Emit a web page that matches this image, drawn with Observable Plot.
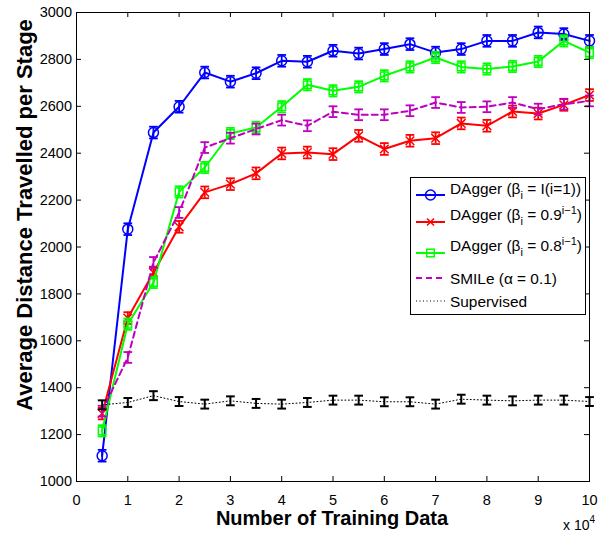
<!DOCTYPE html>
<html><head><meta charset="utf-8">
<script src="https://cdn.jsdelivr.net/npm/d3@7"></script>
<script src="https://cdn.jsdelivr.net/npm/@observablehq/plot@0.6"></script>
<style>body{margin:0;background:#fff} svg{display:block}</style>
</head><body><div id="chart"></div>
<script>
// ---- data (x in units of 10^4 training samples) ----
const xs = [0.5, 1, 1.5, 2, 2.5, 3, 3.5, 4, 4.5, 5, 5.5, 6, 6.5, 7, 7.5, 8, 8.5, 9, 9.5, 10];
const daggerI   = [1110, 2076, 2488, 2598, 2744, 2705, 2741, 2794, 2790, 2837, 2825, 2844, 2865, 2829, 2844, 2879, 2879, 2915, 2908, 2879];
const dagger09  = [1290, 1697, 1891, 2086, 2233, 2268, 2314, 2399, 2403, 2396, 2474, 2418, 2453, 2464, 2527, 2517, 2578, 2569, 2606, 2648];
const dagger08  = [1216, 1671, 1849, 2235, 2339, 2484, 2510, 2598, 2692, 2666, 2683, 2730, 2768, 2808, 2768, 2759, 2770, 2791, 2879, 2829];
const smile     = [1300, 1529, 1934, 2147, 2424, 2464, 2503, 2541, 2517, 2577, 2564, 2564, 2581, 2616, 2595, 2598, 2616, 2588, 2609, 2623];
const supervised= [1327, 1337, 1366, 1341, 1330, 1344, 1333, 1330, 1337, 1347, 1347, 1340, 1340, 1330, 1351, 1347, 1344, 1347, 1347, 1341];
const errDaggerI = 25, errDagger09 = 25, errDagger08 = 24, errSmile = 23, errSupervised = 19;
const xTicks = [0, 1, 2, 3, 4, 5, 6, 7, 8, 9, 10];
const yTicks = [1000, 1200, 1400, 1600, 1800, 2000, 2200, 2400, 2600, 2800, 3000];

// ---- layout ----
const W = 610, H = 535, mT = 12, mB = 54, mL = 76, mR = 21;
const FH = H - mT - mB, FW = W - mL - mR;
const FONT = "'Liberation Sans', Arial, Helvetica, sans-serif";
const CAP = 0.085;

function seriesMarks(vals, err, color, o) {
  const d = xs.map((x, i) => ({x, y: vals[i], lo: vals[i] - err, hi: vals[i] + err}));
  const bw = o.barWidth ?? 1.8;
  const m = [
    Plot.line(d, {x: "x", y: "y", stroke: color, strokeWidth: o.lineWidth, strokeDasharray: o.dash}),
    Plot.ruleX(d, {x: "x", y1: "lo", y2: "hi", stroke: color, strokeWidth: bw}),
    Plot.link(d, {x1: p => p.x - CAP, x2: p => p.x + CAP, y1: "lo", y2: "lo", stroke: color, strokeWidth: bw}),
    Plot.link(d, {x1: p => p.x - CAP, x2: p => p.x + CAP, y1: "hi", y2: "hi", stroke: color, strokeWidth: bw})
  ];
  if (o.symbol) m.push(Plot.dot(d, {x: "x", y: "y", symbol: o.symbol, r: o.r, stroke: color, fill: "none", strokeWidth: 1.5}));
  return m;
}

const plot = Plot.plot({
  width: W, height: H,
  marginTop: mT, marginBottom: mB, marginLeft: mL, marginRight: mR,
  style: {fontFamily: FONT, fontSize: "14.5px", background: "white", color: "black", overflow: "visible"},
  x: {domain: [0, 10]},
  y: {domain: [1000, 3000]},
  marks: [
    ...seriesMarks(daggerI, errDaggerI, "#0000ff", {lineWidth: 2, symbol: "circle", r: 5}),
    ...seriesMarks(dagger09, errDagger09, "#ff0000", {lineWidth: 2, symbol: "times", r: 4}),
    ...seriesMarks(dagger08, errDagger08, "#00ff00", {lineWidth: 2, symbol: "square", r: 4.3}),
    ...seriesMarks(smile, errSmile, "#bf00bf", {lineWidth: 2, dash: "6,4"}),
    ...seriesMarks(supervised, errSupervised, "#000000", {lineWidth: 1, dash: "1,2.5", barWidth: 2}),
    Plot.frame({stroke: "black", strokeWidth: 1}),
    Plot.tickX(xTicks, {x: d => d, insetTop: FH - 5, stroke: "black"}),
    Plot.tickX(xTicks, {x: d => d, insetBottom: FH - 5, stroke: "black"}),
    Plot.tickY(yTicks, {y: d => d, insetRight: FW - 5, stroke: "black"}),
    Plot.tickY(yTicks, {y: d => d, insetLeft: FW - 5, stroke: "black"}),
    Plot.axisX(xTicks, {tickSize: 0, tickPadding: 13, fontSize: 14.5, label: null, tickFormat: d => String(d)}),
    Plot.axisY(yTicks, {tickSize: 0, tickPadding: 4.5, fontSize: 14.5, label: null, tickFormat: d => String(d)})
  ]
});
document.getElementById("chart").appendChild(plot);

// ---- axis titles and legend ----
const svg = d3.select(plot);
svg.append("text").attr("x", 332).attr("y", 525).attr("text-anchor", "middle")
  .attr("font-family", FONT).attr("font-weight", "bold").attr("font-size", 20).attr("fill", "black")
  .text("Number of Training Data");
svg.append("text").attr("transform", "translate(31.5,215) rotate(-90)").attr("text-anchor", "middle")
  .attr("font-family", FONT).attr("font-weight", "bold").attr("font-size", 22).attr("fill", "black")
  .text("Average Distance Travelled per Stage");
const sci = svg.append("text").attr("x", 563).attr("y", 530).attr("text-anchor", "start")
  .attr("font-family", FONT).attr("font-size", 14).attr("fill", "black");
sci.append("tspan").text("x 10");
sci.append("tspan").attr("font-size", 10).attr("dy", -7).text("4");

const lg = svg.append("g").attr("font-family", FONT).attr("font-size", 15.4).attr("fill", "black").attr("text-anchor", "start");
lg.append("rect").attr("x", 410.5).attr("y", 177.5).attr("width", 175).attr("height", 137)
  .attr("fill", "white").attr("stroke", "black").attr("stroke-width", 1);
const L1 = 416, L2 = 445, LM = 430.5, TX = 450;
function sample(y, color, w, dash) {
  lg.append("line").attr("x1", L1).attr("x2", L2).attr("y1", y).attr("y2", y)
    .attr("stroke", color).attr("stroke-width", w).attr("stroke-dasharray", dash || null);
}
// row 1
sample(195, "#0000ff", 2);
lg.append("circle").attr("cx", LM).attr("cy", 195).attr("r", 5).attr("fill", "none").attr("stroke", "#0000ff").attr("stroke-width", 1.5);
// row 2
sample(222, "#ff0000", 2);
lg.append("path").attr("d", `M${LM-3.5},${222-3.5}L${LM+3.5},${222+3.5}M${LM-3.5},${222+3.5}L${LM+3.5},${222-3.5}`).attr("stroke", "#ff0000").attr("stroke-width", 1.5);
// row 3
sample(253, "#00ff00", 2);
lg.append("rect").attr("x", LM - 3.8).attr("y", 253 - 3.8).attr("width", 7.6).attr("height", 7.6).attr("fill", "none").attr("stroke", "#00ff00").attr("stroke-width", 1.5);
// row 4
sample(278, "#bf00bf", 2, "6,4");
// row 5
sample(301, "#000000", 1, "1,2.5");

function betaLabel(y, rest, sup, tail) {
  const t = lg.append("text").attr("x", TX).attr("y", y).attr("text-anchor", "start");
  t.append("tspan").text("DAgger (\u03B2");
  t.append("tspan").attr("font-size", 11).attr("dy", 5).text("i");
  t.append("tspan").attr("dy", -5).text(rest);
  if (sup) {
    t.append("tspan").attr("font-size", 11).attr("dy", -6).text(sup);
    t.append("tspan").attr("dy", 6).text(tail);
  }
}
betaLabel(194, " = I(i=1))");
betaLabel(220, " = 0.9", "i\u22121", ")");
betaLabel(251, " = 0.8", "i\u22121", ")");
lg.append("text").attr("x", TX).attr("y", 284).attr("text-anchor", "start").text("SMILe (\u03B1 = 0.1)");
lg.append("text").attr("x", TX).attr("y", 307).attr("text-anchor", "start").text("Supervised");
</script>
</body></html>
